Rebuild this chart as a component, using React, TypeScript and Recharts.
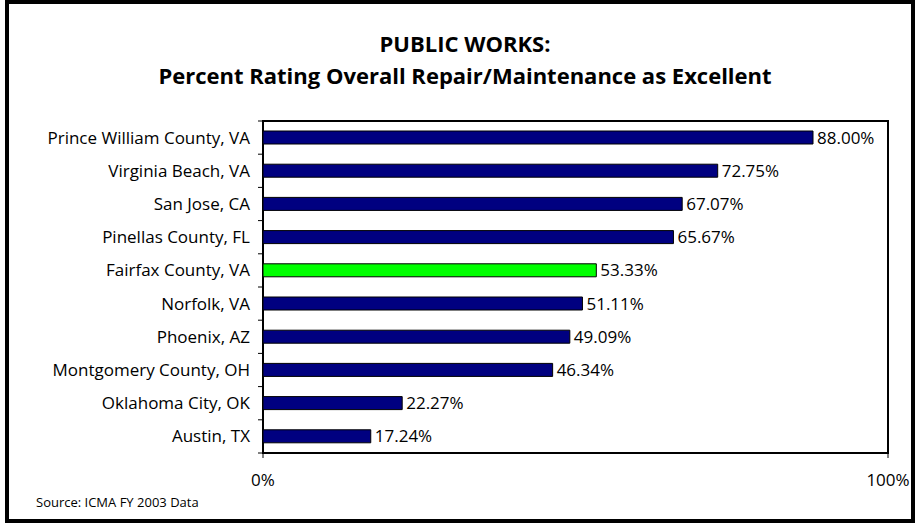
import {
  Bar,
  BarChart,
  Cell,
  LabelList,
  ReferenceArea,
  XAxis,
  YAxis,
} from "recharts";

const cities = [
  "Prince William County, VA",
  "Virginia Beach, VA",
  "San Jose, CA",
  "Pinellas County, FL",
  "Fairfax County, VA",
  "Norfolk, VA",
  "Phoenix, AZ",
  "Montgomery County, OH",
  "Oklahoma City, OK",
  "Austin, TX",
];

const percentExcellent = [88.0, 72.75, 67.07, 65.67, 53.33, 51.11, 49.09, 46.34, 22.27, 17.24];

const highlightCity = "Fairfax County, VA";

const xTicks = [0, 100];

const data = cities.map((city, i) => ({ city, value: percentExcellent[i] }));

const FONT = "'Open Sans', Lato, sans-serif";

function CityTick(props: any) {
  const { x, y, payload, index, visibleTicksCount } = props;
  const half = payload?.offset ?? 16.6;
  const axisX = x + 8;
  return (
    <g>
      <line x1={axisX - 5} x2={axisX} y1={y - half} y2={y - half} stroke="#000" strokeWidth={1} />
      {index === visibleTicksCount - 1 && (
        <line x1={axisX - 5} x2={axisX} y1={y + half} y2={y + half} stroke="#000" strokeWidth={1} />
      )}
      <text x={x - 5} y={y} dy="0.35em" textAnchor="end" fill="#000" fontSize={17} fontFamily={FONT}>
        {payload.value}
      </text>
    </g>
  );
}

export default function App() {
  return (
    <div style={{ position: "absolute", left: 0, top: 0, width: 915, height: 523, background: "#fff" }}>
      <div
        style={{
          position: "absolute",
          left: 5,
          top: 0,
          width: 910,
          height: 523,
          boxSizing: "border-box",
          border: "4px solid #000",
        }}
      />
      <div
        style={{
          position: "absolute",
          left: 0,
          width: 930,
          top: 27,
          textAlign: "center",
          fontFamily: FONT,
          fontWeight: 700,
          fontSize: 22,
          lineHeight: "32px",
          color: "#000",
        }}
      >
        <div>PUBLIC WORKS:</div>
        <div>Percent Rating Overall Repair/Maintenance as Excellent</div>
      </div>
      <div
        style={{
          position: "absolute",
          left: 36,
          top: 493,
          fontFamily: FONT,
          fontSize: 13,
          color: "#000",
        }}
      >
        Source: ICMA FY 2003 Data
      </div>
      <BarChart
        width={915}
        height={523}
        data={data}
        layout="vertical"
        margin={{ top: 121, right: 27, bottom: 30, left: 0 }}
        style={{ position: "absolute", left: 0, top: 0 }}
      >
        <XAxis
          type="number"
          domain={[0, 100]}
          ticks={xTicks}
          tickFormatter={(v: number) => `${v}%`}
          axisLine={false}
          tickLine={{ stroke: "#000" }}
          tickSize={5}
          tickMargin={16}
          height={40}
          tick={{ fill: "#000", fontSize: 17, fontFamily: FONT }}
        />
        <YAxis
          type="category"
          dataKey="city"
          width={263}
          axisLine={false}
          tickLine={false}
          tick={<CityTick />}
        />
        <ReferenceArea x1={0} x2={100} fill="none" stroke="#000" strokeWidth={2} />
        <Bar dataKey="value" barSize={13} stroke="#000" strokeWidth={1} isAnimationActive={false}>
          {data.map((d) => (
            <Cell key={d.city} fill={d.city === highlightCity ? "#00FF00" : "#000080"} />
          ))}
          <LabelList
            dataKey="value"
            position="right"
            offset={4}
            formatter={(v: any) => `${Number(v).toFixed(2)}%`}
            fill="#000"
            fontSize={17}
            fontFamily={FONT}
          />
        </Bar>
      </BarChart>
    </div>
  );
}
